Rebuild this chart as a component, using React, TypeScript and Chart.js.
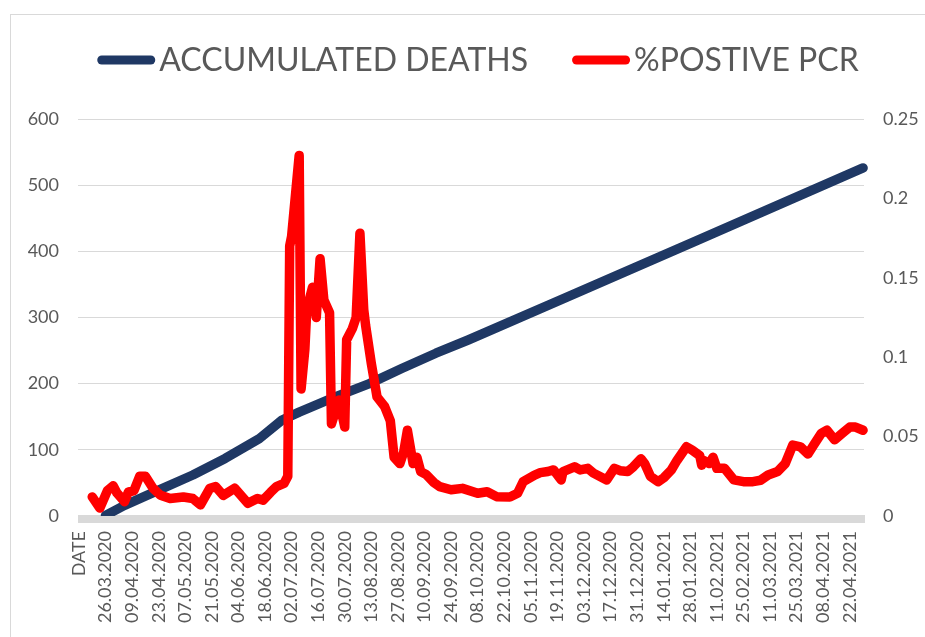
import React, { useEffect, useRef } from "react";
import { Chart, registerables } from "chart.js";

Chart.register(...registerables);

// ---- categories (daily dates, first category is the header cell "DATE") ----
const FIRST_DAY = Date.UTC(2020, 2, 13);
const DAY_COUNT = 413;
const pad2 = (n: number) => (n < 10 ? "0" + n : "" + n);
const dateLabels: string[] = Array.from({ length: DAY_COUNT }, (_, k) => {
  const d = new Date(FIRST_DAY + k * 86400000);
  return pad2(d.getUTCDate()) + "." + pad2(d.getUTCMonth() + 1) + "." + d.getUTCFullYear();
});
const categories: string[] = ["DATE", ...dateLabels];
const LABEL_EVERY = 14;

// ---- ACCUMULATED DEATHS (left axis) ----
const deathDates = [
  "26.03.2020", "05.04.2020", "23.04.2020", "11.05.2020", "28.05.2020", "15.06.2020",
  "27.06.2020", "06.07.2020", "11.07.2020", "25.07.2020", "12.08.2020", "29.08.2020",
  "16.09.2020", "03.10.2020", "21.11.2020", "01.02.2021", "29.04.2021",
];
const deathValues = [1, 16, 39, 62, 87, 117, 145, 157, 163, 180, 200, 223, 246, 266, 327, 417, 526];

// ---- %POSTIVE PCR (right axis) ----
const pcrDates = [
  "19.03.2020", "23.03.2020", "27.03.2020", "30.03.2020", "01.04.2020", "05.04.2020",
  "07.04.2020", "10.04.2020", "13.04.2020", "16.04.2020", "20.04.2020", "24.04.2020",
  "29.04.2020", "06.05.2020", "11.05.2020", "15.05.2020", "20.05.2020", "23.05.2020",
  "27.05.2020", "02.06.2020", "09.06.2020", "14.06.2020", "17.06.2020", "21.06.2020",
  "24.06.2020", "28.06.2020", "30.06.2020", "01.07.2020", "02.07.2020", "06.07.2020",
  "07.07.2020", "09.07.2020", "10.07.2020", "13.07.2020", "15.07.2020", "17.07.2020",
  "19.07.2020", "22.07.2020", "23.07.2020", "27.07.2020", "30.07.2020", "31.07.2020",
  "03.08.2020", "05.08.2020", "07.08.2020", "09.08.2020", "10.08.2020", "13.08.2020",
  "16.08.2020", "20.08.2020", "23.08.2020", "25.08.2020", "28.08.2020", "30.08.2020",
  "01.09.2020", "04.09.2020", "06.09.2020", "08.09.2020", "11.09.2020", "15.09.2020",
  "18.09.2020", "24.09.2020", "30.09.2020", "08.10.2020", "13.10.2020", "18.10.2020",
  "25.10.2020", "29.10.2020", "01.11.2020", "07.11.2020", "10.11.2020", "14.11.2020",
  "17.11.2020", "21.11.2020", "22.11.2020", "28.11.2020", "01.12.2020", "05.12.2020",
  "08.12.2020", "15.12.2020", "19.12.2020", "22.12.2020", "26.12.2020", "29.12.2020",
  "02.01.2021", "04.01.2021", "07.01.2021", "11.01.2021", "14.01.2021", "18.01.2021",
  "21.01.2021", "26.01.2021", "29.01.2021", "02.02.2021", "03.02.2021", "04.02.2021",
  "07.02.2021", "09.02.2021", "11.02.2021", "15.02.2021", "20.02.2021", "25.02.2021",
  "02.03.2021", "06.03.2021", "10.03.2021", "15.03.2021", "19.03.2021", "23.03.2021",
  "27.03.2021", "31.03.2021", "03.04.2021", "07.04.2021", "10.04.2021", "14.04.2021",
  "18.04.2021", "22.04.2021", "25.04.2021", "29.04.2021",
];
const pcrValues = [
  0.012, 0.005, 0.016, 0.019, 0.0145, 0.009,
  0.015, 0.016, 0.025, 0.025, 0.0175, 0.013,
  0.011, 0.012, 0.011, 0.007, 0.0175, 0.0185,
  0.013, 0.0175, 0.008, 0.011, 0.010, 0.015,
  0.0185, 0.0205, 0.025, 0.170, 0.176, 0.227,
  0.080, 0.105, 0.130, 0.144, 0.125, 0.162,
  0.136, 0.128, 0.058, 0.073, 0.056, 0.111,
  0.118, 0.125, 0.178, 0.130, 0.120, 0.096,
  0.075, 0.069, 0.060, 0.037, 0.033, 0.040,
  0.054, 0.033, 0.037, 0.028, 0.026, 0.021,
  0.0185, 0.0165, 0.0174, 0.0143, 0.0153, 0.0122,
  0.012, 0.0143, 0.0216, 0.0258, 0.0273, 0.028,
  0.029, 0.0227, 0.028, 0.031, 0.029, 0.030,
  0.027, 0.0227, 0.030, 0.0285, 0.028, 0.031,
  0.036, 0.033, 0.025, 0.0216, 0.024, 0.029,
  0.035, 0.0436, 0.0415, 0.038, 0.032, 0.035,
  0.033, 0.037, 0.030, 0.030, 0.0227, 0.0216,
  0.0216, 0.0225, 0.0258, 0.028, 0.033, 0.0447,
  0.0436, 0.039, 0.0447, 0.052, 0.054, 0.048,
  0.052, 0.056, 0.056, 0.054,
];

const leftTicks = { min: 0, max: 600, step: 100 };
const rightTicks = { min: 0, max: 0.25, step: 0.05 };

const BLUE = "#1F3864";
const RED = "#FF0000";
const TEXT = "#595959";
const GRID = "#D9D9D9";
const FONT = "Lato, 'Open Sans', sans-serif";
const LINE_W = 9.5;

const legendItems = [
  { text: "ACCUMULATED DEATHS", color: BLUE },
  { text: "%POSTIVE PCR", color: RED },
];

const framePlugin = {
  id: "frame",
  beforeDraw(chart: any) {
    const ctx = chart.ctx;
    ctx.save();
    ctx.fillStyle = "#FFFFFF";
    ctx.fillRect(0, 0, chart.width, chart.height);
    ctx.strokeStyle = GRID;
    ctx.lineWidth = 1;
    ctx.strokeRect(10.5, 14.5, chart.width + 20, chart.height + 20);
    ctx.restore();
  },
  beforeDatasetsDraw(chart: any) {
    const { ctx, chartArea } = chart;
    ctx.save();
    ctx.fillStyle = GRID;
    ctx.fillRect(chartArea.left, chartArea.bottom - 1, chartArea.right - chartArea.left + 1, 8);
    ctx.restore();
  },
  afterDraw(chart: any) {
    const ctx = chart.ctx;
    ctx.save();
    ctx.font = "32px " + FONT;
    const mark = 58;
    const gapText = 4;
    const gapItem = 44;
    const widths = legendItems.map((it) => ctx.measureText(it.text).width);
    const total = widths.reduce((a, w) => a + w + mark + gapText, 0) + gapItem * (legendItems.length - 1);
    let x = 478 - total / 2;
    const y = 60;
    legendItems.forEach((it, k) => {
      ctx.strokeStyle = it.color;
      ctx.lineWidth = 9;
      ctx.lineCap = "round";
      ctx.beginPath();
      ctx.moveTo(x + 4.5, y);
      ctx.lineTo(x + mark - 4.5, y);
      ctx.stroke();
      ctx.fillStyle = TEXT;
      ctx.textBaseline = "middle";
      ctx.textAlign = "left";
      ctx.fillText(it.text, x + mark + gapText, y + 1);
      x += mark + gapText + widths[k] + gapItem;
    });
    ctx.restore();
  },
};

export default function App() {
  const canvasRef = useRef<HTMLCanvasElement | null>(null);

  useEffect(() => {
    let chart: Chart | null = null;
    let cancelled = false;
    const prevMargin = document.body.style.margin;
    document.body.style.margin = "0";

    const build = () => {
      if (cancelled || !canvasRef.current) return;
      chart = new Chart(canvasRef.current, {
        type: "line",
        data: {
          labels: categories,
          datasets: [
            {
              label: "ACCUMULATED DEATHS",
              data: deathDates.map((d, k) => ({ x: d, y: deathValues[k] })) as any,
              borderColor: BLUE,
              backgroundColor: BLUE,
              borderWidth: LINE_W,
              pointRadius: 0,
              borderCapStyle: "round",
              borderJoinStyle: "round",
              tension: 0,
              yAxisID: "y",
              order: 2,
            },
            {
              label: "%POSTIVE PCR",
              data: pcrDates.map((d, k) => ({ x: d, y: pcrValues[k] })) as any,
              borderColor: RED,
              backgroundColor: RED,
              borderWidth: LINE_W,
              pointRadius: 0,
              borderCapStyle: "round",
              borderJoinStyle: "round",
              tension: 0,
              yAxisID: "y1",
              order: 1,
            },
          ],
        },
        options: {
          animation: false,
          responsive: false,
          devicePixelRatio: 1,
          layout: { padding: { top: 119, left: 0, right: 0, bottom: 0 } },
          plugins: {
            legend: { display: false },
            tooltip: { enabled: false },
          },
          scales: {
            x: {
              type: "category",
              offset: true,
              grid: { display: false, drawTicks: false },
              border: { display: false },
              ticks: {
                autoSkip: false,
                minRotation: 90,
                maxRotation: 90,
                padding: 15,
                color: TEXT,
                font: { family: FONT, size: 18 },
                callback: (_v: any, index: number) =>
                  index % LABEL_EVERY === 0 ? categories[index] : "",
              },
              afterFit: (scale: any) => {
                scale.height = 121;
              },
            },
            y: {
              position: "left",
              min: leftTicks.min,
              max: leftTicks.max,
              grid: { color: GRID, lineWidth: 1, drawTicks: false },
              border: { display: false },
              ticks: {
                stepSize: leftTicks.step,
                padding: 19,
                color: TEXT,
                font: { family: FONT, size: 18 },
              },
              afterFit: (scale: any) => {
                scale.width = 78;
              },
            },
            y1: {
              position: "right",
              min: rightTicks.min,
              max: rightTicks.max,
              grid: { display: false, drawTicks: false },
              border: { display: false },
              ticks: {
                stepSize: rightTicks.step,
                padding: 19,
                color: TEXT,
                font: { family: FONT, size: 18 },
                callback: (v: any) => String(Number(Number(v).toFixed(2))),
              },
              afterFit: (scale: any) => {
                scale.width = 61;
              },
            },
          },
        },
        plugins: [framePlugin],
      });
    };

    const fontsReady =
      (document as any).fonts && (document as any).fonts.load
        ? Promise.all([
            (document as any).fonts.load("18px Lato"),
            (document as any).fonts.load("32px Lato"),
          ]).catch(() => null)
        : Promise.resolve(null);
    fontsReady.then(build);

    return () => {
      cancelled = true;
      if (chart) chart.destroy();
      document.body.style.margin = prevMargin;
    };
  }, []);

  return (
    <div style={{ position: "fixed", left: 0, top: 0, width: 925, height: 637, background: "#fff" }}>
      <canvas ref={canvasRef} width={925} height={637} style={{ display: "block" }} />
    </div>
  );
}
